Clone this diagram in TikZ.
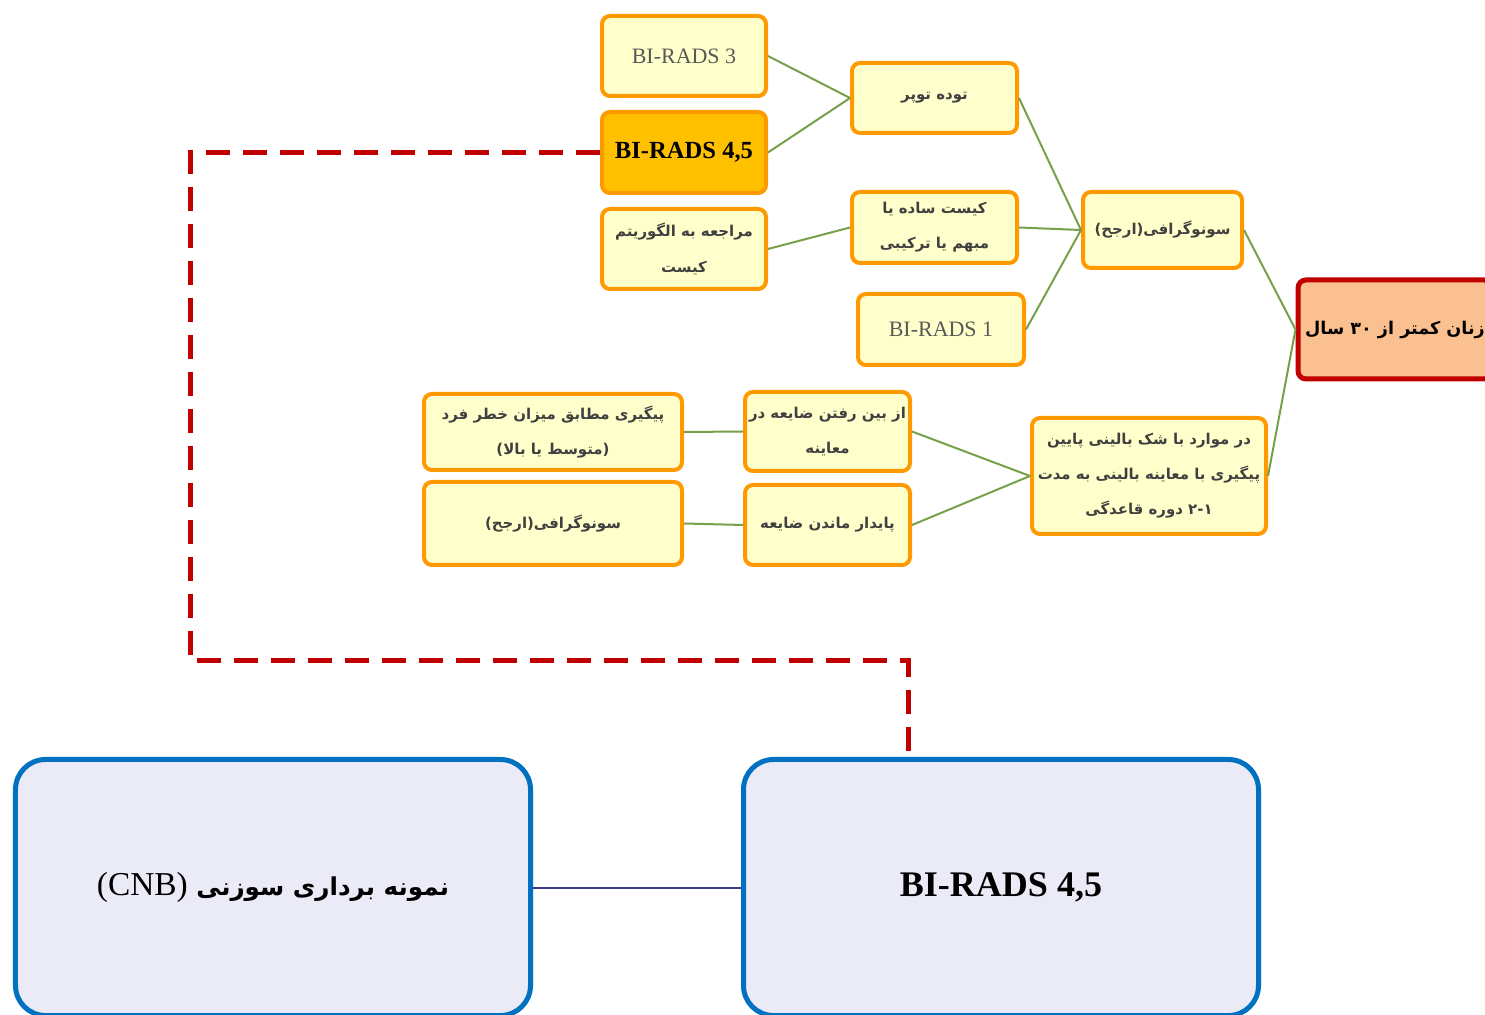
\documentclass[tikz,border=0pt]{standalone}
\usepackage{fontspec}
\setmainfont{Liberation Serif}
\newfontfamily\arabicfont[Script=Arabic]{DejaVu Sans}
\TeXXeTstate=1
\usepackage{tikz}

\definecolor{boxorange}{RGB}{255,153,0}
\definecolor{paleyellow}{RGB}{255,255,204}
\definecolor{amber}{RGB}{255,192,0}
\definecolor{peach}{RGB}{250,192,144}
\definecolor{darkred}{RGB}{192,0,0}
\definecolor{lilac}{RGB}{235,235,247}
\definecolor{blueedge}{RGB}{0,112,192}
\definecolor{linkgreen}{RGB}{119,160,74}
\definecolor{navyline}{RGB}{60,60,140}
\definecolor{textgrey}{RGB}{64,64,64}

\tikzset{
  smallbox/.style={shape=rectangle,draw=boxorange,fill=paleyellow,line width=0.8mm,
    rounded corners=1.6mm,text=textgrey,align=center,inner sep=0pt,
    font=\arabicfont\bfseries\fontsize{8.5}{20}\selectfont},
  latinbox/.style={smallbox,text={rgb,255:red,89;green,89;blue,89},
    font=\fontsize{12.5}{15}\selectfont},
  hotbox/.style={smallbox,fill=amber,text=black,font=\bfseries\fontsize{14}{17}\selectfont},
  agebox/.style={smallbox,draw=darkred,fill=peach,line width=1mm,text=black,
    font=\arabicfont\bfseries\fontsize{10}{14}\selectfont},
  bigbox/.style={shape=rectangle,draw=blueedge,fill=lilac,line width=1mm,
    rounded corners=6mm,align=center,inner sep=0pt,
    minimum width=103mm,minimum height=51.2mm},
  greenlink/.style={draw=linkgreen,line width=0.4mm},
  navylink/.style={draw=navyline,line width=0.4mm},
  redlink/.style={draw=darkred,line width=1mm,dash pattern=on 4.8mm off 2.6mm}
}

\begin{document}
\begin{tikzpicture}[x=0.2mm,y=-0.2mm]
    \useasboundingbox (0,0) rectangle (1485,1015);
    % first column of the tree
    \node[latinbox,minimum width=32.8mm,minimum height=16mm] (bir3) at (684,56) {BI-RADS 3};
    \node[hotbox,minimum width=32.8mm,minimum height=16.2mm] (bir45) at (684,152.5) {BI-RADS 4,5};
    \node[smallbox,minimum width=32.8mm,minimum height=16mm] (cystalgo) at (684,249)
        {\beginR مراجعه به الگوریتم\endR\\\beginR کیست\endR};
    \node[smallbox,minimum width=33mm,minimum height=14mm] (solid) at (934.5,98)
        {\beginR توده توپر\endR};
    \node[smallbox,minimum width=33mm,minimum height=14.2mm] (cyst) at (934.5,227.5)
        {\beginR کیست ساده یا\endR\\\beginR مبهم یا ترکیبی\endR};
    \node[latinbox,minimum width=33.2mm,minimum height=14.2mm] (bir1) at (941,329.5) {BI-RADS 1};
    \node[smallbox,minimum width=31.8mm,minimum height=15.2mm] (sono) at (1162.5,230)
        {\beginR سونوگرافی(ارجح)\endR};
    \node[agebox,minimum width=38.8mm,minimum height=19.8mm] (women) at (1395,329.5)
        {\beginR زنان کمتر از \beginL ۳۰\endL{} سال\endR};
    % lower branch
    \node[smallbox,minimum width=46.8mm,minimum height=23.2mm] (lowdoubt) at (1149,476)
        {\beginR در موارد با شک بالینی پایین\endR\\\beginR پیگیری با معاینه بالینی به مدت\endR\\\beginR \beginL ۲-۱\endL{} دوره قاعدگی\endR};
    \node[smallbox,minimum width=33mm,minimum height=15.8mm] (gone) at (827.5,431.5)
        {\beginR از بین رفتن ضایعه در\endR\\\beginR معاینه\endR};
    \node[smallbox,minimum width=33mm,minimum height=16mm] (stays) at (827.5,525)
        {\beginR پایدار ماندن ضایعه\endR};
    \node[smallbox,minimum width=51.6mm,minimum height=15.2mm] (riskfu) at (553,432)
        {\beginR پیگیری مطابق میزان خطر فرد\endR\\\beginR (متوسط یا بالا)\endR};
    \node[smallbox,minimum width=51.6mm,minimum height=16.6mm] (sono2) at (553,523.5)
        {\beginR سونوگرافی(ارجح)\endR};
    % bottom boxes
    \node[bigbox] (cnb) at (273,887.5)
        {\arabicfont\bfseries\fontsize{14}{18}\selectfont\beginR نمونه برداری سوزنی \beginL{\normalfont\fontsize{19}{22}\selectfont (CNB)}\endL\endR};
    \node[bigbox,font=\bfseries\fontsize{20.5}{24}\selectfont] (bigbir) at (1001,887.5) {BI-RADS 4,5};

    \draw[greenlink] (bir3.east) -- (solid.west);
    \draw[greenlink] (bir45.east) -- (solid.west);
    \draw[greenlink] (cystalgo.east) -- (cyst.west);
    \draw[greenlink] (solid.east) -- (sono.west);
    \draw[greenlink] (cyst.east) -- (sono.west);
    \draw[greenlink] (bir1.east) -- (sono.west);
    \draw[greenlink] (sono.east) -- (women.west);
    \draw[greenlink] (lowdoubt.east) -- (women.west);
    \draw[greenlink] (gone.east) -- (lowdoubt.west);
    \draw[greenlink] (stays.east) -- (lowdoubt.west);
    \draw[greenlink] (riskfu.east) -- (gone.west);
    \draw[greenlink] (sono2.east) -- (stays.west);
    \draw[navylink] (cnb.east) -- (bigbir.west);
    \coordinate (turn) at (190,661);
    \coordinate (drop) at (908,661);
    \draw[redlink] (bir45.west) -| (turn) -- (drop) -- (drop |- bigbir.north);
\end{tikzpicture}
\end{document}
